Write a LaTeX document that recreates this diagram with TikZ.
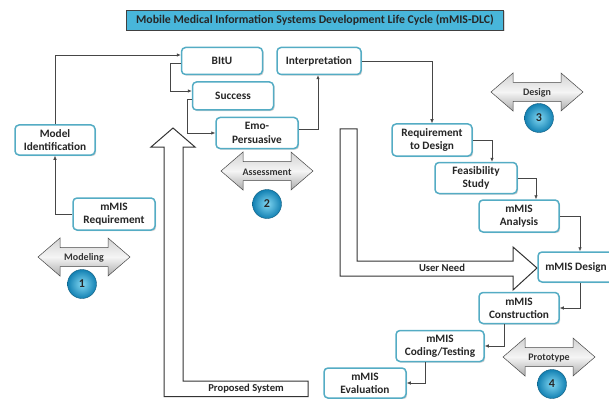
\documentclass[tikz,border=0pt]{standalone}
\usepackage{fontspec}
\setmainfont{Carlito}
\usetikzlibrary{shadows,calc,arrows.meta}

\definecolor{boxrim}{RGB}{84,172,196}
\definecolor{titlefill}{RGB}{72,182,218}
\definecolor{linegray}{RGB}{70,70,70}
\definecolor{balllight}{RGB}{130,215,242}
\definecolor{balldark}{RGB}{18,128,178}

\tikzset{
  phase/.style={rectangle, rounded corners=4pt, draw=boxrim, line width=1.5pt,
    fill=white, align=center, font=\fontsize{11.3}{13.3}\selectfont\bfseries,
    text=black!85, inner sep=2pt,
    drop shadow={shadow xshift=1.2pt, shadow yshift=-1.2pt, opacity=0.35}},
  titlebox/.style={rectangle, draw=black!75, line width=0.8pt, fill=titlefill,
    font=\fontsize{11.8}{13}\selectfont\bfseries, text=black!85, inner sep=2pt,
    minimum width=377pt, minimum height=20pt,
    drop shadow={shadow xshift=1pt, shadow yshift=-1pt, opacity=0.3}},
  conn/.style={draw=linegray, line width=0.6pt, -{Latex[length=4pt,width=3.5pt]}},
  bigarrow/.style={draw=black!80, line width=1pt, fill=white},
  stagelabel/.style={font=\fontsize{10}{11}\selectfont\bfseries, text=black!80, inner sep=0pt},
  stagenum/.style={circle, minimum size=29pt, inner sep=0pt, draw=balldark!70!black,
    line width=0.4pt, inner color=balllight, outer color=balldark,
    font=\fontsize{12}{13}\selectfont\bfseries, text=black!85},
  arrowlabel/.style={font=\fontsize{10.6}{12}\selectfont\bfseries, text=black!85, inner sep=0pt},
  stagearrow/.pic={
    \path[draw=gray!55!black, line width=0.5pt, top color=gray!35, bottom color=gray!65,
      middle color=gray!8]
      (-46,0) -- (-24,-19) -- (-24,-9.5) -- (24,-9.5) -- (24,-19) -- (46,0)
      -- (24,19) -- (24,9.5) -- (-24,9.5) -- (-24,19) -- cycle;
  }
}

\begin{document}
\begin{tikzpicture}[x=1pt,y=-1pt]
\useasboundingbox (0,0) rectangle (609,398);
\begin{scope}
\clip (0,0) rectangle (609,398);

% title
\node[titlebox] (title) at (315,20)
  {Mobile Medical Information Systems Development Life Cycle (mMIS-DLC)};

% hollow process arrows
\path[bigarrow] (340,129) -- (357,129) -- (357,261) -- (513,261) -- (513,247)
  -- (537,268) -- (513,290) -- (513,276) -- (340,276) -- cycle;
\node[arrowlabel] (userneed) at (442,268) {User Need};

\path[bigarrow] (308,381) -- (183,381) -- (183,147) -- (195,147) -- (173,128)
  -- (151,147) -- (164,147) -- (164,396.5) -- (308,396.5) -- cycle;
\node[arrowlabel] (propsys) at (246,388.5) {Proposed System};

% phase boxes
\node[phase, minimum width=81pt, minimum height=27pt] (bitu)   at (222,61)  {BItU};
\node[phase, minimum width=84pt, minimum height=27pt] (interp) at (319,61)  {Interpretation};
\node[phase, minimum width=81pt, minimum height=28pt] (succ)   at (233,96)  {Success};
\node[phase, minimum width=82pt, minimum height=31pt] (emo)    at (257,133) {Emo-\\Persuasive};
\node[phase, minimum width=80pt, minimum height=30pt] (model)  at (55,140)  {Model\\Identification};
\node[phase, minimum width=82pt, minimum height=32pt] (req)    at (114,214) {mMIS\\Requirement};
\node[phase, minimum width=80pt, minimum height=32pt] (reqd)   at (432,140) {Requirement\\to Design};
\node[phase, minimum width=82pt, minimum height=31pt] (feas)   at (476,178) {Feasibility\\Study};
\node[phase, minimum width=80pt, minimum height=32pt] (anal)   at (519,216) {mMIS\\Analysis};
\node[phase, minimum width=76pt, minimum height=30pt] (design) at (576,267) {mMIS Design};
\node[phase, minimum width=80pt, minimum height=31pt] (constr) at (519,308) {mMIS\\Construction};
\node[phase, minimum width=88pt, minimum height=31pt] (coding) at (440,346) {mMIS\\Coding/Testing};
\node[phase, minimum width=82pt, minimum height=30pt] (eval)   at (365,383) {mMIS\\Evaluation};

% connectors
\draw[conn] (req.west) -| (model.south);
\draw[conn] (model.north) |- ([yshift=6pt]bitu.west);
\draw[conn] ([yshift=-2pt]bitu.west) -- ++(-10,0) |- ([yshift=5pt]succ.west);
\draw[conn] ([yshift=-3pt]succ.west) -- ++(-4,0) |- (emo.west);
\draw[conn] ([yshift=4pt]emo.east) -| ([xshift=-1pt]interp.south);
\draw[conn] (interp.east) -| (reqd.north);
\draw[conn] (reqd.east) -| ([xshift=16pt]feas.north);
\draw[conn] (feas.east) -| ([xshift=17pt]anal.north);
\draw[conn] (anal.east) -| ([xshift=4pt]design.north);
\draw[conn] ([xshift=4pt]design.south) |- (constr.east);
\draw[conn] ([xshift=-15pt]constr.south) |- (coding.east);
\draw[conn] ([xshift=-15pt]coding.south) |- (eval.east);

% stage markers
\pic at (84,257) {stagearrow};
\node[stagelabel] (modeling) at (84,258) {Modeling};
\node[stagenum] (s1) at (82,284) {1};

\pic at (267,171) {stagearrow};
\node[stagelabel] (assess) at (267,172) {Assessment};
\node[stagenum] (s2) at (267,204) {2};

\pic at (537,92) {stagearrow};
\node[stagelabel] (designlab) at (537,93) {Design};
\node[stagenum] (s3) at (539,118) {3};

\pic at (549,357) {stagearrow};
\node[stagelabel] (proto) at (549,358) {Prototype};
\node[stagenum] (s4) at (552,384) {4};
\end{scope}
\end{tikzpicture}
\end{document}
